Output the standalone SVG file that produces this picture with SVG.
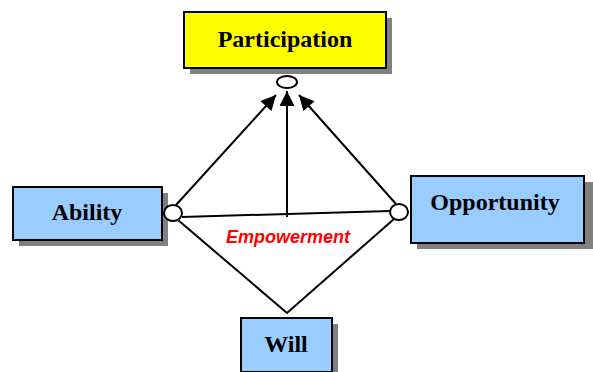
<svg xmlns="http://www.w3.org/2000/svg" width="593" height="372" viewBox="0 0 593 372">
<defs>
<style>
.shadow{fill:#808080}
.box{stroke:#000;stroke-width:2}
.blue{fill:#99ccff}
.yellow{fill:#ffff00}
.lbl{font-family:"Liberation Serif",serif;font-weight:bold;font-size:24px;fill:#000;text-anchor:middle}
.ln{stroke:#000;stroke-width:2;fill:none}
.port{fill:#fff;stroke:#000;stroke-width:2}
</style>
<marker id="ah" viewBox="0 0 10 10" refX="10" refY="5" markerWidth="16" markerHeight="15" markerUnits="userSpaceOnUse" orient="auto">
<path d="M0,0 L10,5 L0,10 z" fill="#000"/>
</marker>
</defs>
<g id="participation">
<rect class="shadow" x="190" y="18" width="202" height="56"/>
<rect class="box yellow" x="184" y="12" width="202" height="56"/>
<text class="lbl" x="285" y="47">Participation</text>
</g>
<g id="ability">
<rect class="shadow" x="19" y="193" width="149" height="53"/>
<rect class="box blue" x="13" y="187" width="149" height="53"/>
<text class="lbl" x="87" y="220">Ability</text>
</g>
<g id="opportunity">
<rect class="shadow" x="417" y="182" width="176" height="67"/>
<rect class="box blue" x="411" y="176" width="173" height="67"/>
<text class="lbl" x="495" y="210">Opportunity</text>
</g>
<g id="will">
<rect class="shadow" x="247" y="324" width="91" height="52"/>
<rect class="box blue" x="241" y="318" width="91" height="54"/>
<text class="lbl" x="286" y="352">Will</text>
</g>
<g id="connectors">
<path class="ln" d="M176,205 L276,95" marker-end="url(#ah)"/>
<path class="ln" d="M396,204 L299,95" marker-end="url(#ah)"/>
<path class="ln" d="M287,217 L287,91" marker-end="url(#ah)"/>
<path class="ln" d="M182,217 L390,211"/>
<path class="ln" d="M178,220 L287,313 L394,219"/>
<ellipse class="port" cx="287" cy="82" rx="10" ry="6"/>
<ellipse class="port" cx="173" cy="213" rx="9" ry="8"/>
<ellipse class="port" cx="399" cy="212" rx="9" ry="8"/>
<text x="288" y="243" font-family="Liberation Sans,Arial,sans-serif" font-weight="bold" font-style="italic" font-size="18" fill="#ff0000" text-anchor="middle">Empowerment</text>
</g>
</svg>
